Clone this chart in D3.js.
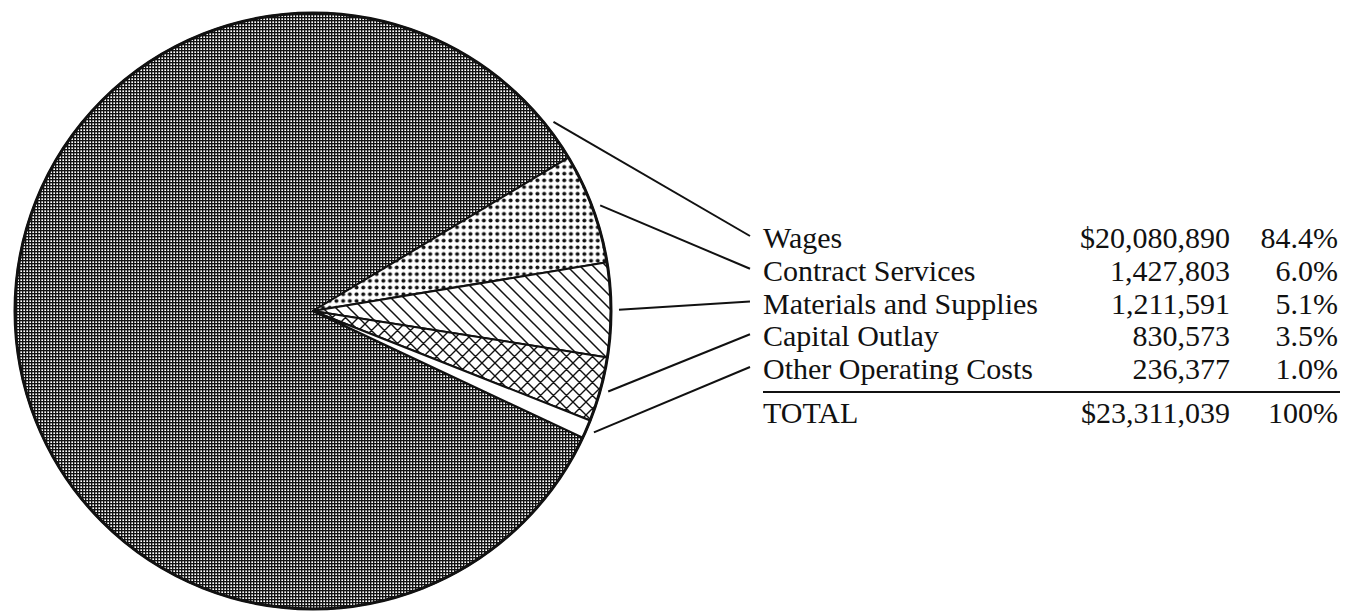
<!DOCTYPE html>
<html>
<head>
<meta charset="utf-8">
<script src="https://cdn.jsdelivr.net/npm/d3@7"></script>
<style>
  body { margin: 0; background: #fff; }
  svg { display: block; }
  text { font-family: "Liberation Serif", "Times New Roman", serif; font-size: 30px; fill: #111; }
</style>
</head>
<body>
<div id="chart"></div>
<script>
// data
var categories = ["Wages", "Contract Services", "Materials and Supplies", "Capital Outlay", "Other Operating Costs"];
var amounts = [20080890, 1427803, 1211591, 830573, 236377];
var percents = [84.4, 6.0, 5.1, 3.5, 1.0];
var totalLabel = "TOTAL";
var totalAmount = 23311039;
var totalPercent = 100;

var width = 1345, height = 613;
var cx = 313, cy = 311, radius = 298;

var svg = d3.select('#chart').append('svg')
    .attr('width', width)
    .attr('height', height);

// fill patterns, one per slice
var defs = svg.append('defs');

var p0 = defs.append('pattern').attr('id', 'pat0')
    .attr('patternUnits', 'userSpaceOnUse').attr('width', 3).attr('height', 3);
p0.append('rect').attr('width', 3).attr('height', 3).attr('fill', '#fff');
p0.append('rect').attr('width', 3).attr('height', 1.35).attr('fill', '#111');
p0.append('rect').attr('width', 1.35).attr('height', 3).attr('fill', '#111');

var p1 = defs.append('pattern').attr('id', 'pat1')
    .attr('patternUnits', 'userSpaceOnUse').attr('width', 6.7).attr('height', 6.7);
p1.append('rect').attr('width', 6.7).attr('height', 6.7).attr('fill', '#fff');
p1.append('circle').attr('cx', 3.35).attr('cy', 3.35).attr('r', 2).attr('fill', '#111');

var p2 = defs.append('pattern').attr('id', 'pat2')
    .attr('patternUnits', 'userSpaceOnUse').attr('width', 13).attr('height', 13);
p2.append('rect').attr('width', 13).attr('height', 13).attr('fill', '#fff');
p2.append('path').attr('d', 'M-2,-2L15,15M-2,11L2,15M11,-2L15,2')
    .attr('stroke', '#111').attr('stroke-width', 1.5);

var p3 = defs.append('pattern').attr('id', 'pat3')
    .attr('patternUnits', 'userSpaceOnUse').attr('width', 13).attr('height', 13);
p3.append('rect').attr('width', 13).attr('height', 13).attr('fill', '#fff');
p3.append('path').attr('d', 'M-2,-2L15,15M-2,11L2,15M11,-2L15,2M-2,15L15,-2M-2,2L2,-2M11,15L15,11')
    .attr('stroke', '#111').attr('stroke-width', 1.4);

var fills = ['url(#pat0)', 'url(#pat1)', 'url(#pat2)', 'url(#pat3)', '#fff'];

// small slices start at about 59 degrees (clockwise from 12 o'clock)
var smallStart = 59 * Math.PI / 180;
var start = smallStart + (1 - percents[0] / 100) * 2 * Math.PI;

var pie = d3.pie().sort(null).value(function(d) { return d; })
    .startAngle(start).endAngle(start + 2 * Math.PI);
var arcs = pie(percents);

var arc = d3.arc().innerRadius(0).outerRadius(radius);

var g = svg.append('g').attr('transform', 'translate(' + cx + ',' + cy + ')');

g.selectAll('path.slice')
    .data(arcs)
    .enter().append('path')
    .attr('class', 'slice')
    .attr('d', arc)
    .attr('fill', function(d, i) { return fills[i]; })
    .attr('stroke', '#111')
    .attr('stroke-width', 2)
    .attr('stroke-linejoin', 'round');

// outer rim
g.append('circle').attr('r', radius).attr('fill', 'none')
    .attr('stroke', '#111').attr('stroke-width', 3);

// table on the right
var rowY = d3.scalePoint().domain(d3.range(categories.length)).range([248, 379]);
var labelX = 763, amountX = 1230, pctX = 1338;
var fmt = d3.format(',');
var pfmt = d3.format('.1f');

var rows = svg.selectAll('g.row')
    .data(categories)
    .enter().append('g')
    .attr('class', 'row')
    .attr('transform', function(d, i) { return 'translate(0,' + rowY(i) + ')'; });

rows.append('text').attr('x', labelX).text(function(d) { return d; });
rows.append('text').attr('x', amountX).attr('text-anchor', 'end')
    .text(function(d, i) { return (i === 0 ? '$' : '') + fmt(amounts[i]); });
rows.append('text').attr('x', pctX).attr('text-anchor', 'end')
    .text(function(d, i) { return pfmt(percents[i]) + '%'; });

// leader lines: wages points to the upper right rim, the rest to slice middles
var wagesAngle = 51.8 * Math.PI / 180;
g.selectAll('line.leader')
    .data(arcs)
    .enter().append('line')
    .attr('class', 'leader')
    .attr('x1', function(d, i) {
        var a = i === 0 ? wagesAngle : (d.startAngle + d.endAngle) / 2;
        return Math.sin(a) * (radius + 8);
    })
    .attr('y1', function(d, i) {
        var a = i === 0 ? wagesAngle : (d.startAngle + d.endAngle) / 2;
        return -Math.cos(a) * (radius + 8);
    })
    .attr('x2', 750 - cx)
    .attr('y2', function(d, i) { return rowY(i) - 12 - cy; })
    .attr('stroke', '#111')
    .attr('stroke-width', 2);

// total rule and row
svg.append('line')
    .attr('x1', labelX).attr('x2', 1340)
    .attr('y1', 392).attr('y2', 392)
    .attr('stroke', '#111').attr('stroke-width', 2);

var tot = svg.append('g').attr('transform', 'translate(0,423)');
tot.append('text').attr('x', labelX).text(totalLabel);
tot.append('text').attr('x', amountX).attr('text-anchor', 'end').text('$' + fmt(totalAmount));
tot.append('text').attr('x', pctX).attr('text-anchor', 'end').text(totalPercent + '%');
</script>
</body>
</html>
